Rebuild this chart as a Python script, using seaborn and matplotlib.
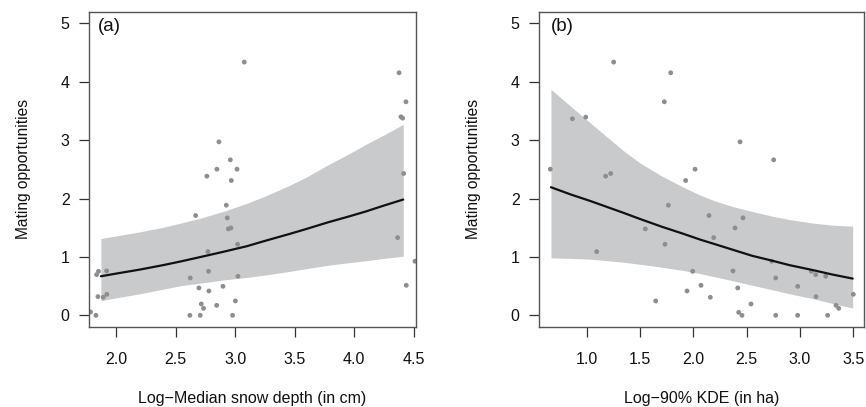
import matplotlib
matplotlib.use("Agg")
import matplotlib.pyplot as plt
import pandas as pd
import seaborn as sns

# Observed mating opportunities per individual
mating = [0.057, 0.0, 0.697, 0.754, 0.32, 0.309, 0.76, 0.36, 0.0, 0.64,
          1.709, 0.469, 0.0, 0.194, 0.12, 2.383, 1.091, 0.754, 0.417, 0.171,
          2.503, 2.971, 0.497, 1.886, 1.669, 1.48, 1.497, 2.663, 2.309, 0.0,
          0.246, 2.503, 1.217, 0.669, 4.337, 1.331, 4.154, 3.40, 3.377, 2.429,
          3.657, 0.514, 0.926]

# Log-median snow depth (cm) for each individual
snow_depth = [1.784, 1.829, 1.835, 1.851, 1.846, 1.891, 1.919, 1.921, 2.619, 2.622,
              2.667, 2.695, 2.706, 2.715, 2.734, 2.762, 2.771, 2.776, 2.779, 2.844,
              2.846, 2.863, 2.897, 2.925, 2.933, 2.942, 2.964, 2.959, 2.967, 2.978,
              3.001, 3.015, 3.020, 3.023, 3.076, 4.365, 4.377, 4.393, 4.407, 4.416,
              4.435, 4.438, 4.511]

# Log-90% KDE home range (ha) and the matching mating opportunities
kde_area = [0.659, 0.866, 0.991, 1.094, 1.178, 1.225, 1.253, 1.550, 1.647, 1.728,
            1.734, 1.766, 1.788, 1.928, 1.941, 1.994, 2.016, 2.072, 2.147, 2.159,
            2.191, 2.372, 2.391, 2.416, 2.425, 2.438, 2.456, 2.466, 2.541, 2.734,
            2.753, 2.772, 2.772, 2.978, 2.978, 3.106, 3.147, 3.150, 3.241, 3.259,
            3.338, 3.363, 3.500]
mating_kde = [2.503, 3.366, 3.394, 1.091, 2.383, 2.429, 4.337, 1.48, 0.246, 3.657,
              1.217, 1.886, 4.154, 2.309, 0.417, 0.754, 2.503, 0.514, 1.709, 0.309,
              1.331, 0.76, 1.497, 0.469, 0.051, 2.971, 0.0, 1.669, 0.194, 0.926,
              2.663, 0.64, 0.0, 0.497, 0.0, 0.754, 0.697, 0.32, 0.669, 0.0,
              0.171, 0.12, 0.36]

# Model predictions with confidence limits: snow depth
snow_pred_x = [1.871, 2.0, 2.2, 2.4, 2.549, 2.7, 2.9, 3.1, 3.25, 3.45, 3.6, 3.782,
               3.95, 4.1, 4.25, 4.412]
snow_pred_fit = [0.669, 0.715, 0.784, 0.862, 0.926, 0.995, 1.088, 1.185, 1.275, 1.39,
                 1.48, 1.594, 1.69, 1.78, 1.88, 1.983]
snow_pred_hi = [1.315, 1.36, 1.43, 1.51, 1.584, 1.66, 1.78, 1.92, 2.04, 2.22, 2.37,
                2.58, 2.76, 2.93, 3.09, 3.27]
snow_pred_lo = [0.252, 0.30, 0.37, 0.45, 0.51, 0.55, 0.605, 0.65, 0.69, 0.75, 0.80,
                0.857, 0.90, 0.935, 0.975, 1.012]

# Model predictions with confidence limits: home range size
kde_pred_x = [0.665, 0.85, 1.031, 1.2, 1.344, 1.5, 1.7, 1.9, 2.062, 2.2, 2.375,
              2.55, 2.734, 2.9, 3.12, 3.3, 3.494]
kde_pred_fit = [2.194, 2.07, 1.96, 1.85, 1.756, 1.65, 1.52, 1.40, 1.298, 1.22, 1.12,
                1.02, 0.938, 0.86, 0.775, 0.70, 0.629]
kde_pred_hi = [3.87, 3.58, 3.30, 3.04, 2.82, 2.61, 2.39, 2.20, 2.06, 1.96, 1.86,
               1.78, 1.70, 1.64, 1.58, 1.545, 1.526]
kde_pred_lo = [0.984, 0.975, 0.962, 0.935, 0.909, 0.875, 0.825, 0.77, 0.715, 0.66,
               0.59, 0.515, 0.44, 0.37, 0.286, 0.205, 0.126]

sns.set_style("ticks")
plt.rcParams["font.family"] = ["Liberation Sans", "DejaVu Sans"]

fig = plt.figure(figsize=(8.66, 4.07), dpi=100)
ax_a = fig.add_axes([89 / 866, 80 / 407, 326.7 / 866, 315.3 / 407])
ax_b = fig.add_axes([539 / 866, 80 / 407, 325 / 866, 315.3 / 407])

band_color = "#c9cacc"
point_color = "#8e8e8e"


def draw_panel(ax, obs_x, obs_y, px, pfit, plo, phi, xlim, xticks, xlabel, tag, tag_x):
    obs = pd.DataFrame({"x": obs_x, "y": obs_y})
    pred = pd.DataFrame({"x": px, "fit": pfit, "lo": plo, "hi": phi})
    ax.fill_between(pred["x"], pred["lo"], pred["hi"], color=band_color,
                    linewidth=0, zorder=1)
    sns.scatterplot(data=obs, x="x", y="y", ax=ax, color=point_color, s=12,
                    edgecolor="none", zorder=2)
    sns.lineplot(data=pred, x="x", y="fit", ax=ax, color="#111111",
                 linewidth=1.6, zorder=3)
    ax.set_xlim(*xlim)
    ax.set_ylim(-0.2, 5.2)
    ax.set_xticks(xticks)
    ax.set_xticklabels([f"{t:.1f}" for t in xticks])
    ax.set_yticks([0, 1, 2, 3, 4, 5])
    ax.set_yticklabels(["0", "1", "2", "3", "4", "5"])
    ax.tick_params(axis="both", direction="out", length=7, width=0.9,
                   color="#333333", labelsize=11.5, labelcolor="#111111")
    ax.tick_params(axis="x", pad=11)
    ax.tick_params(axis="y", pad=7)
    for sp in ax.spines.values():
        sp.set_visible(True)
        sp.set_color("#555555")
        sp.set_linewidth(1.0)
    ax.set_xlabel(xlabel, fontsize=11.5, color="#111111", labelpad=17)
    ax.set_ylabel("Mating opportunities", fontsize=11.2, color="#111111", labelpad=21)
    ax.text(tag_x, 0.98, tag, transform=ax.transAxes, ha="left", va="top",
            fontsize=13.5, color="#111111")


draw_panel(ax_a, snow_depth, mating, snow_pred_x, snow_pred_fit, snow_pred_lo,
           snow_pred_hi, (1.771, 4.517), [2.0, 2.5, 3.0, 3.5, 4.0, 4.5],
           "Log\u2212Median snow depth (in cm)", "(a)", 0.027)
draw_panel(ax_b, kde_area, mating_kde, kde_pred_x, kde_pred_fit, kde_pred_lo,
           kde_pred_hi, (0.553, 3.60), [1.0, 1.5, 2.0, 2.5, 3.0, 3.5],
           "Log\u221290% KDE (in ha)", "(b)", 0.036)

fig.savefig("out.png", dpi=100)
